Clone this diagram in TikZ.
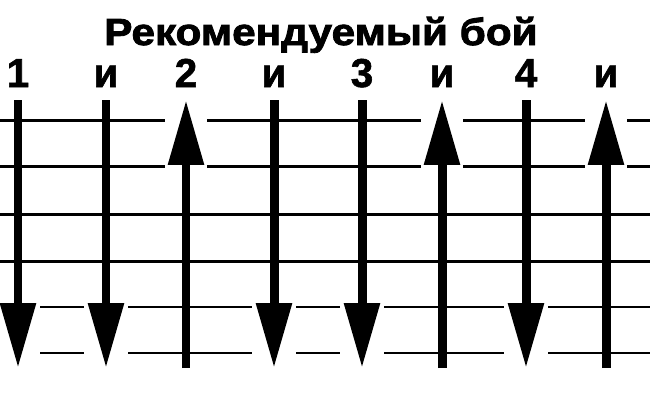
\documentclass[tikz,border=0pt]{standalone}
\usepackage{fontspec}
\setmainfont{Liberation Sans}
\newfontfamily\heavyfont[FakeBold=2.2, FakeStretch=1.12]{Liberation Sans Bold}
\newfontfamily\beatfont[FakeBold=1.5]{Liberation Sans Bold}
\usetikzlibrary{arrows.meta}

\tikzset{
  beat/.style={font=\fontsize{23}{23}\beatfont, anchor=base},
  heading/.style={font=\fontsize{21.5}{21.5}\heavyfont, anchor=base},
  thickstring/.style={line width=0.06cm},
  thinstring/.style={line width=0.04cm},
  strum/.style={line width=0.18cm, -{Triangle[length=1.3cm,width=0.68cm]}},
}

\begin{document}
\begin{tikzpicture}[x=0.02cm,y=-0.02cm]
\useasboundingbox (0,0) rectangle (650,400);
\node[heading] (title) at (321,45) {Рекомендуемый бой};

% strings
\draw[thickstring] (0,120) -- (650,120);
\draw[thickstring] (0,166) -- (650,166);
\draw[thickstring] (0,214) -- (650,214);
\draw[thickstring] (0,261) -- (650,261);
\draw[thinstring] (0,307) -- (650,307);
\draw[thinstring] (0,353) -- (650,353);

% beats
\foreach \x/\t [count=\i] in {18/1,106/и,186/2,274/и,362/3,442/и,526/4,606/и}{
  \node[beat] (beat\i) at (\x,87) {\t};
  \coordinate (top\i) at (\x,100);
  \coordinate (bot\i) at (\x,368);
}

% gaps round the heads
\foreach \x in {18,106,274,362,526} \fill[white] (\x-22,298) rectangle (\x+22,362);
\foreach \x in {186,442,606} \fill[white] (\x-21,112) rectangle (\x+21,172);

% strums
\foreach \i in {1,2,4,5,7} \draw[strum] (top\i) -- (bot\i);
\foreach \i in {3,6,8} \draw[strum] (bot\i) -- (top\i);

\end{tikzpicture}
\end{document}
